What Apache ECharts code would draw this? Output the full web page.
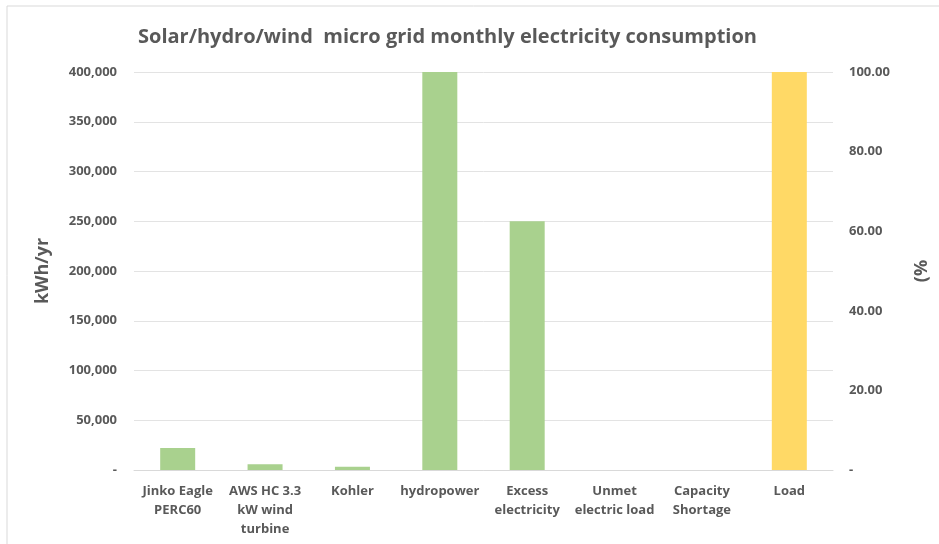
<!DOCTYPE html>
<html>
<head>
<meta charset="utf-8">
<title>Micro grid consumption</title>
<script src="https://cdn.jsdelivr.net/npm/echarts@6/dist/echarts.min.js"></script>
<style>
  html, body { margin: 0; padding: 0; background: #fff; }
  #chart { width: 939px; height: 544px; }
</style>
</head>
<body>
<div id="chart"></div>
<script>
const categories = [
  'Jinko Eagle\nPERC60',
  'AWS HC 3.3\nkW wind\nturbine',
  'Kohler',
  'hydropower',
  'Excess\nelectricity',
  'Unmet\nelectric load',
  'Capacity\nShortage',
  'Load'
]
// kWh/yr, left axis
const energyValues = [22000, 5700, 3300, 400000, 250000, 0, 0, null]
// percent, right axis
const loadPercent = [null, null, null, null, null, null, null, 100]

const textColor = '#595959'
const fontFamily = '"Open Sans", sans-serif'

const chart = echarts.init(document.getElementById('chart'))

chart.setOption({
  animation: false,
  textStyle: { fontFamily: fontFamily },
  title: {
    text: 'Solar/hydro/wind  micro grid monthly electricity consumption',
    left: 133,
    top: 22,
    textStyle: { color: textColor, fontSize: 20, fontWeight: 'bold', fontFamily: fontFamily }
  },
  graphic: [{
    type: 'rect',
    shape: { x: 7, y: 6, width: 940, height: 545 },
    style: { fill: 'none', stroke: '#d9d9d9', lineWidth: 1 },
    silent: true
  }],
  grid: { left: 134, right: 106, top: 72, bottom: 74 },
  xAxis: {
    type: 'category',
    data: categories,
    axisLine: { lineStyle: { color: '#d9d9d9' } },
    axisTick: { show: false },
    axisLabel: {
      color: textColor,
      fontSize: 13,
      fontWeight: 'bold',
      lineHeight: 19,
      margin: 12,
      interval: 0
    }
  },
  yAxis: [
    {
      type: 'value',
      min: 0,
      max: 400000,
      interval: 50000,
      name: 'kWh/yr',
      nameLocation: 'middle',
      nameGap: 82,
      nameTextStyle: { color: textColor, fontSize: 18, fontWeight: 'bold' },
      axisLine: { show: false },
      axisTick: { show: false },
      splitLine: { lineStyle: { color: '#e3e3e3' } },
      axisLabel: {
        color: textColor,
        fontSize: 13,
        fontWeight: 'bold',
        margin: 17,
        formatter: v => v === 0 ? '-' : v.toLocaleString('en-US')
      }
    },
    {
      type: 'value',
      min: 0,
      max: 100,
      interval: 20,
      name: '(%',
      nameLocation: 'middle',
      nameRotate: 90,
      nameGap: 80,
      nameTextStyle: { color: textColor, fontSize: 18, fontWeight: 'bold' },
      axisLine: { show: false },
      axisTick: { show: false },
      splitLine: { show: false },
      axisLabel: {
        color: textColor,
        fontSize: 13,
        fontWeight: 'bold',
        margin: 16,
        formatter: v => v === 0 ? '-' : v.toFixed(2)
      }
    }
  ],
  series: [
    {
      name: 'Energy',
      type: 'bar',
      yAxisIndex: 0,
      data: energyValues,
      barWidth: 35,
      barGap: '-100%',
      itemStyle: { color: '#a9d18e' }
    },
    {
      name: 'Load',
      type: 'bar',
      yAxisIndex: 1,
      data: loadPercent,
      barWidth: 35,
      itemStyle: { color: '#ffd966' }
    }
  ]
})
</script>
</body>
</html>
